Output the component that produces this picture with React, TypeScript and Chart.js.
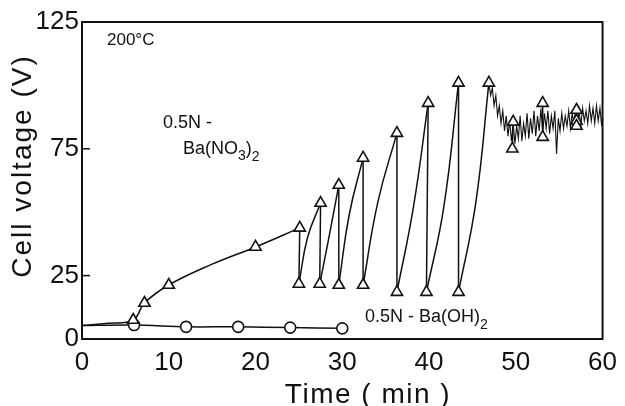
import React, { useEffect, useRef } from "react";
import { Chart, registerables } from "chart.js";

Chart.register(...registerables);

// ---- axis ticks ----
const xTickValues = [0, 10, 20, 30, 40, 50, 60];
const yTickValues = [0, 25, 75, 125];

// ---- 0.5N-Ba(OH)2 (circles) ----
const hydroxideTime = [0, 6, 12, 18, 24, 30];
const hydroxideVolt = [5.3, 5.5, 4.8, 4.8, 4.5, 4.2];

// ---- 0.5N-Ba(NO3)2 early smooth rise ----
const earlyPathTime = [0, 3, 5.9, 7.2, 10, 15, 20, 25.1];
const earlyPathVolt = [5.3, 6.2, 7.5, 14.2, 21.3, 29.5, 36.3, 43.8];
const earlyTriTime = [5.9, 7.2, 10, 20];
const earlyTriVolt = [7.5, 14.2, 21.3, 36.3];

// ---- sawtooth peaks / troughs ----
const peakTime = [25.1, 27.5, 29.6, 32.4, 36.3, 39.9, 43.4, 46.9];
const peakVolt = [43.8, 53.6, 60.7, 71.4, 81.2, 93, 101, 101];
const troughTime = [25.0, 27.4, 29.6, 32.4, 36.3, 39.7, 43.4];
const troughVolt = [21.7, 21.7, 21.3, 21.3, 18.5, 18.5, 18.5];
const riseMidTime = [26.0, 28.4, 30.8, 34.1, 38.2, 41.7, 45.4];
const riseMidVolt = [40, 39, 49, 54, 52, 52, 54];

// ---- noisy plateau after 47 min ----
const noiseTime = [
  46.9, 47.1, 47.3, 47.5, 47.7, 47.9, 48.1, 48.3, 48.5, 48.7, 48.9, 49.1, 49.3, 49.5, 49.7, 49.9,
  50.1, 50.3, 50.5, 50.7, 50.9, 51.1, 51.3, 51.5, 51.7, 51.9, 52.1, 52.3, 52.5, 52.7, 52.9, 53.1,
  53.3, 53.5, 53.7, 53.9, 54.1, 54.3, 54.5, 54.7, 54.9, 55.1, 55.3, 55.5, 55.7, 55.9, 56.1, 56.3,
  56.5, 56.7, 56.9, 57.1, 57.3, 57.5, 57.7, 57.9, 58.1, 58.3, 58.5, 58.7, 58.9, 59.1, 59.3, 59.5,
  59.7, 59.9, 60.0,
];
const noiseVolt = [
  101, 96, 99, 92, 96, 88, 92, 85, 90, 82, 88, 80, 86, 78, 85, 77,
  84, 79, 88, 78, 85, 80, 89, 79, 87, 81, 90, 80, 88, 82, 91, 81,
  89, 83, 90, 81, 88, 83, 90, 73, 87, 82, 89, 83, 88, 84, 90, 83,
  89, 85, 91, 85, 90, 84, 91, 86, 90, 85, 92, 86, 91, 85, 92, 86,
  91, 84, 88,
];
const plateauTriTime = [49.7, 49.6, 53.1, 53.1, 57, 57, 57];
const plateauTriVolt = [85.6, 75, 93, 79.6, 90.3, 86, 84];

const FONT = '"Liberation Sans", Arial, sans-serif';
const INK = "#111";

type P = { x: number; y: number | null };

function buildRise(): P[] {
  const out: P[] = [];
  for (let i = 0; i < troughTime.length; i++) {
    out.push({ x: troughTime[i], y: troughVolt[i] });
    out.push({ x: riseMidTime[i], y: riseMidVolt[i] });
    out.push({ x: peakTime[i + 1], y: peakVolt[i + 1] });
    out.push({ x: peakTime[i + 1], y: null });
  }
  return out;
}

function buildDrops(): P[] {
  const out: P[] = [];
  for (let i = 0; i < troughTime.length; i++) {
    out.push({ x: peakTime[i], y: peakVolt[i] });
    out.push({ x: troughTime[i], y: troughVolt[i] });
    out.push({ x: troughTime[i], y: null });
  }
  for (let i = 0; i + 1 < plateauTriTime.length; i += 2) {
    out.push({ x: plateauTriTime[i], y: plateauTriVolt[i] });
    out.push({ x: plateauTriTime[i + 1], y: plateauTriVolt[i + 1] });
    out.push({ x: plateauTriTime[i + 1], y: null });
  }
  return out;
}

function zip(xs: number[], ys: number[]): P[] {
  return xs.map((x, i) => ({ x, y: ys[i] }));
}

const decorPlugin = {
  id: "decor",
  afterDatasetsDraw(chart: any) {
    const { ctx, chartArea } = chart;
    const { left, right, top, bottom } = chartArea;
    const yScale = chart.scales.y;
    ctx.save();
    // frame
    ctx.strokeStyle = INK;
    ctx.lineWidth = 2;
    ctx.strokeRect(left, top, right - left, bottom - top);
    // inward y tick marks
    ctx.lineWidth = 1.5;
    [25, 75].forEach((v) => {
      const py = yScale.getPixelForValue(v);
      ctx.beginPath();
      ctx.moveTo(left, py);
      ctx.lineTo(left + 8, py);
      ctx.stroke();
    });

    ctx.fillStyle = INK;
    ctx.textBaseline = "alphabetic";
    ctx.textAlign = "left";
    const runs = (x: number, y: number, parts: [string, number, number][]) => {
      let cx = x;
      parts.forEach(([t, size, dy]) => {
        ctx.font = `${size}px ${FONT}`;
        ctx.fillText(t, cx, y + dy);
        cx += ctx.measureText(t).width;
      });
    };
    runs(107, 45, [["200°C", 17, 0]]);
    runs(163, 128, [["0.5N -", 18, 0]]);
    runs(183, 154, [["Ba(NO", 18, 0], ["3", 14, 6], [")", 18, 0], ["2", 14, 7]]);
    runs(365, 322, [["0.5N - Ba(OH)", 18, 0], ["2", 14, 7]]);

    // axis titles
    ctx.font = `28px ${FONT}`;
    (ctx as any).letterSpacing = "2px";
    ctx.textAlign = "center";
    ctx.save();
    ctx.translate(31, 166);
    ctx.rotate(-Math.PI / 2);
    ctx.fillText("Cell voltage (V)", 0, 0);
    ctx.restore();
    (ctx as any).letterSpacing = "1.5px";
    ctx.fillText("Time ( min )", 368, 403);
    (ctx as any).letterSpacing = "0px";
    ctx.restore();
  },
};

export default function App() {
  const ref = useRef<HTMLCanvasElement | null>(null);

  useEffect(() => {
    if (!ref.current) return;
    const lineBase = {
      type: "line" as const,
      showLine: true,
      borderColor: INK,
      borderWidth: 1.5,
      pointRadius: 0,
      pointHoverRadius: 0,
      fill: false,
      spanGaps: false,
    };
    const triangles = [
      ...zip(earlyTriTime, earlyTriVolt),
      ...zip(peakTime, peakVolt),
      ...zip(troughTime, troughVolt),
      ...zip(plateauTriTime, plateauTriVolt),
    ];
    const chart = new Chart(ref.current, {
      type: "scatter",
      data: {
        datasets: [
          {
            label: "triangles",
            data: triangles,
            showLine: false,
            pointStyle: "triangle",
            pointRadius: 6.5,
            pointBackgroundColor: "#fff",
            pointBorderColor: INK,
            pointBorderWidth: 1.6,
            order: 0,
          } as any,
          {
            ...lineBase,
            label: "0.5N-Ba(OH)2",
            data: zip(hydroxideTime, hydroxideVolt),
            tension: 0.3,
            pointRadius: (c: any) => (c.dataIndex === 0 ? 0 : 5.5),
            pointStyle: "circle",
            pointBackgroundColor: "#fff",
            pointBorderColor: INK,
            pointBorderWidth: 1.6,
            order: 1,
          } as any,
          { ...lineBase, label: "early", data: zip(earlyPathTime, earlyPathVolt), tension: 0.4, order: 2 } as any,
          { ...lineBase, label: "rise", data: buildRise(), tension: 0.45, order: 3 } as any,
          { ...lineBase, label: "drops", data: buildDrops(), tension: 0, order: 4 } as any,
          { ...lineBase, label: "noise", data: zip(noiseTime, noiseVolt), tension: 0, borderWidth: 1.1, order: 5 } as any,
        ],
      },
      options: {
        responsive: false,
        animation: false,
        events: [],
        layout: { padding: { left: 0, right: 17, top: 22, bottom: 0 } },
        plugins: { legend: { display: false }, tooltip: { enabled: false }, title: { display: false } },
        scales: {
          x: {
            type: "linear",
            min: 0,
            max: 60,
            grid: { display: false, drawTicks: false },
            border: { display: false },
            afterBuildTicks: (s: any) => {
              s.ticks = xTickValues.map((v) => ({ value: v }));
            },
            afterFit: (s: any) => {
              s.height = 67;
            },
            ticks: {
              padding: 8,
              color: INK,
              font: { family: FONT, size: 26 },
              maxRotation: 0,
              autoSkip: false,
            },
          },
          y: {
            type: "linear",
            min: 0,
            max: 125,
            grid: { display: false, drawTicks: false },
            border: { display: false },
            afterBuildTicks: (s: any) => {
              s.ticks = yTickValues.map((v) => ({ value: v }));
            },
            afterFit: (s: any) => {
              s.width = 82;
            },
            ticks: {
              padding: 3,
              color: INK,
              font: { family: FONT, size: 26 },
              autoSkip: false,
            },
          },
        },
      } as any,
      plugins: [decorPlugin],
    });
    return () => chart.destroy();
  }, []);

  return (
    <div style={{ position: "absolute", left: 0, top: 0, width: 625, height: 406, background: "#fff" }}>
      <canvas ref={ref} width={625} height={406} style={{ display: "block" }} />
    </div>
  );
}
